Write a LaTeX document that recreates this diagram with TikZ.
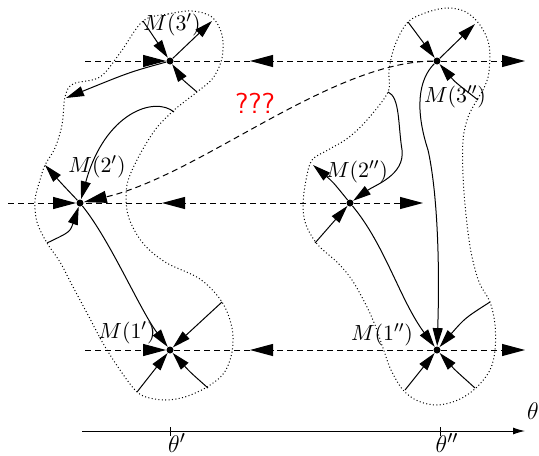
\documentclass[tikz,border=0pt]{standalone}
\usepackage{tikz}
\usetikzlibrary{arrows.meta}
\tikzset{
  fixpt/.style={circle, fill=black, inner sep=0pt, minimum size=3.5pt},
  flow/.style={draw, -{Triangle[length=9pt,width=5pt]}, line width=0.5pt},
  dashflow/.style={draw, dash pattern=on 3pt off 2pt, line width=0.5pt},
  bigtip/.style={-{Triangle[length=11.5pt,width=6pt]}},
  region/.style={draw, dash pattern=on 0.5pt off 1.2pt, line width=0.5pt},
  mlabel/.style={inner sep=0pt, font=\fontsize{11.4}{13}\selectfont},
  every edge/.style={flow}
}

\begin{document}
\begin{tikzpicture}[x=0.5pt,y=-0.5pt]
  \useasboundingbox (0,0) rectangle (539,455);

  % basins
  \draw[region] plot[smooth cycle, tension=0.55] coordinates {
    (143,21) (168,14) (192,11) (212,17) (222,35) (222,58) (213,78) (197,92)
    (184,102) (172,112) (155,130) (138,158) (127,185) (128,215) (142,242)
    (165,262) (200,279) (222,302) (232,328) (232,352) (224,373) (207,387)
    (185,397) (165,400) (146,397) (135,390) (120,370) (104,345) (88,315)
    (72,285) (60,262) (47,243) (37,222) (35,200) (40,180) (45,165) (55,148)
    (62,125) (65,97) (73,84) (100,77) (120,53)};
  \draw[region] plot[smooth cycle, tension=0.55] coordinates {
    (408,22) (428,12) (448,8) (466,12) (480,25) (489,45) (489,72) (484,88)
    (477,100) (468,117) (463,140) (463,175) (466,215) (471,252) (479,282)
    (490,302) (495,325) (495,350) (490,370) (476,388) (458,400) (437,405)
    (418,401) (403,390) (391,370) (383,348) (375,325) (365,303) (352,280)
    (338,263) (318,245) (306,225) (303,205) (306,180) (312,160) (328,150)
    (348,138) (367,120) (388,92) (389,70) (395,45)};

  % fixed points
  \node[fixpt] (m3a) at (170,61) {};
  \node[fixpt] (m2a) at (80,203) {};
  \node[fixpt] (m1a) at (170,350) {};
  \node[fixpt] (m3b) at (437,61) {};
  \node[fixpt] (m2b) at (350,203) {};
  \node[fixpt] (m1b) at (437,350) {};

  \node[mlabel] (l3a) at (172,25) {$M(3')$};
  \node[mlabel] (l2a) at (97,167) {$M(2')$};
  \node[mlabel] (l1a) at (127,333) {$M(1')$};
  \node[mlabel] (l3b) at (455,97) {$M(3'')$};
  \node[mlabel] (l2b) at (357,172) {$M(2'')$};
  \node[mlabel] (l1b) at (382,335) {$M(1'')$};

  \node[text=red, font=\sffamily\Large, inner sep=0pt] (qq) at (255,103) {???};

  % ends on the basin borders
  \coordinate (e1) at (143,21);
  \coordinate (e2) at (212,21);
  \coordinate (e3) at (197,92);
  \coordinate (e4) at (66,98);
  \coordinate (e5) at (174,112);
  \coordinate (e6) at (45,165);
  \coordinate (e7) at (47,243);
  \coordinate (e9) at (222,302);
  \coordinate (e10) at (137,392);
  \coordinate (e11) at (208,388);
  \coordinate (f1) at (408,22);
  \coordinate (f2) at (475,24);
  \coordinate (f3) at (478,100);
  \coordinate (f5) at (388,92);
  \coordinate (f6) at (313,165);
  \coordinate (f7) at (315,243);
  \coordinate (f9) at (490,302);
  \coordinate (f10) at (405,390);
  \coordinate (f11) at (475,388);

  % left basin
  \path (e1) edge (m3a)
        (m3a) edge (e2)
        (e9) edge (m1a)
        (e10) edge (m1a);
  \draw[flow] (e3) .. controls (183,80) .. (m3a);
  \draw[flow] (m3a) .. controls (130,72) .. (e4);
  \draw[flow] (e5) .. controls (155,96) and (105,112) .. (m2a);
  \draw[flow] (m2a) .. controls (62,184) .. (e6);
  \draw[flow] (e7) .. controls (70,232) .. (m2a);
  \draw[flow] (m2a) .. controls (110,240) and (140,310) .. (m1a);
  \draw[flow] (e11) .. controls (190,372) .. (m1a);

  % right basin
  \path (f1) edge (m3b)
        (m3b) edge (f2)
        (f7) edge (m2b)
        (f10) edge (m1b);
  \draw[flow] (f3) .. controls (455,82) .. (m3b);
  \draw[flow] (m3b) .. controls (418,80) and (415,110) .. (428,150)
        .. controls (437,190) and (440,260) .. (m1b);
  \draw[flow] (f5) .. controls (400,97) and (398,125) .. (402,150)
        .. controls (405,175) and (375,185) .. (m2b);
  \draw[flow] (m2b) .. controls (333,182) .. (f6);
  \draw[flow] (m2b) .. controls (385,245) and (400,300) .. (m1b);
  \draw[flow] (f9) .. controls (465,318) .. (m1b);
  \draw[flow] (f11) .. controls (455,370) .. (m1b);

  % horizontal lines
  \coordinate (h3l) at (85,61);
  \coordinate (h3m) at (250,61);
  \coordinate (h3r) at (525,61);
  \coordinate (h2l) at (8,203);
  \coordinate (h2m) at (162,203);
  \coordinate (h2r) at (423,203);
  \coordinate (h1l) at (85,350);
  \coordinate (h1m) at (250,350);
  \coordinate (h1r) at (525,350);

  \draw[dashflow, bigtip] (h3l) -- (m3a);
  \draw[dashflow] (h3m) -- (m3a);
  \draw[dashflow, bigtip] (m3b) -- (h3m);
  \draw[dashflow, bigtip] (m3b) -- (h3r);
  \draw[dashflow, bigtip] (h2l) -- (m2a);
  \draw[dashflow] (h2m) -- (m2a);
  \draw[dashflow, bigtip] (m2b) -- (h2m);
  \draw[dashflow, bigtip] (m2b) -- (h2r);
  \draw[dashflow, bigtip] (h1l) -- (m1a);
  \draw[dashflow] (h1m) -- (m1a);
  \draw[dashflow, bigtip] (m1b) -- (h1m);
  \draw[dashflow, bigtip] (m1b) -- (h1r);

  \draw[dashflow, bigtip] (m3b) .. controls (330,62) and (200,175) .. (m2a);

  % theta axis
  \coordinate (ax0) at (82,431);
  \coordinate (ax1) at (525,431);
  \draw[-{Latex[length=6pt,width=3.5pt]}, line width=0.5pt] (ax0) -- (ax1);
  \draw[line width=0.4pt] (170,427) -- (170,436);
  \draw[line width=0.4pt] (440,427) -- (440,436);
  \node[font=\fontsize{13}{15}\selectfont, inner sep=0pt] (th) at (533,411) {$\theta$};
  \node[font=\fontsize{13}{15}\selectfont, inner sep=0pt] (th1) at (177,443) {$\theta'$};
  \node[font=\fontsize{13}{15}\selectfont, inner sep=0pt] (th2) at (447,443) {$\theta''$};
\end{tikzpicture}
\end{document}
